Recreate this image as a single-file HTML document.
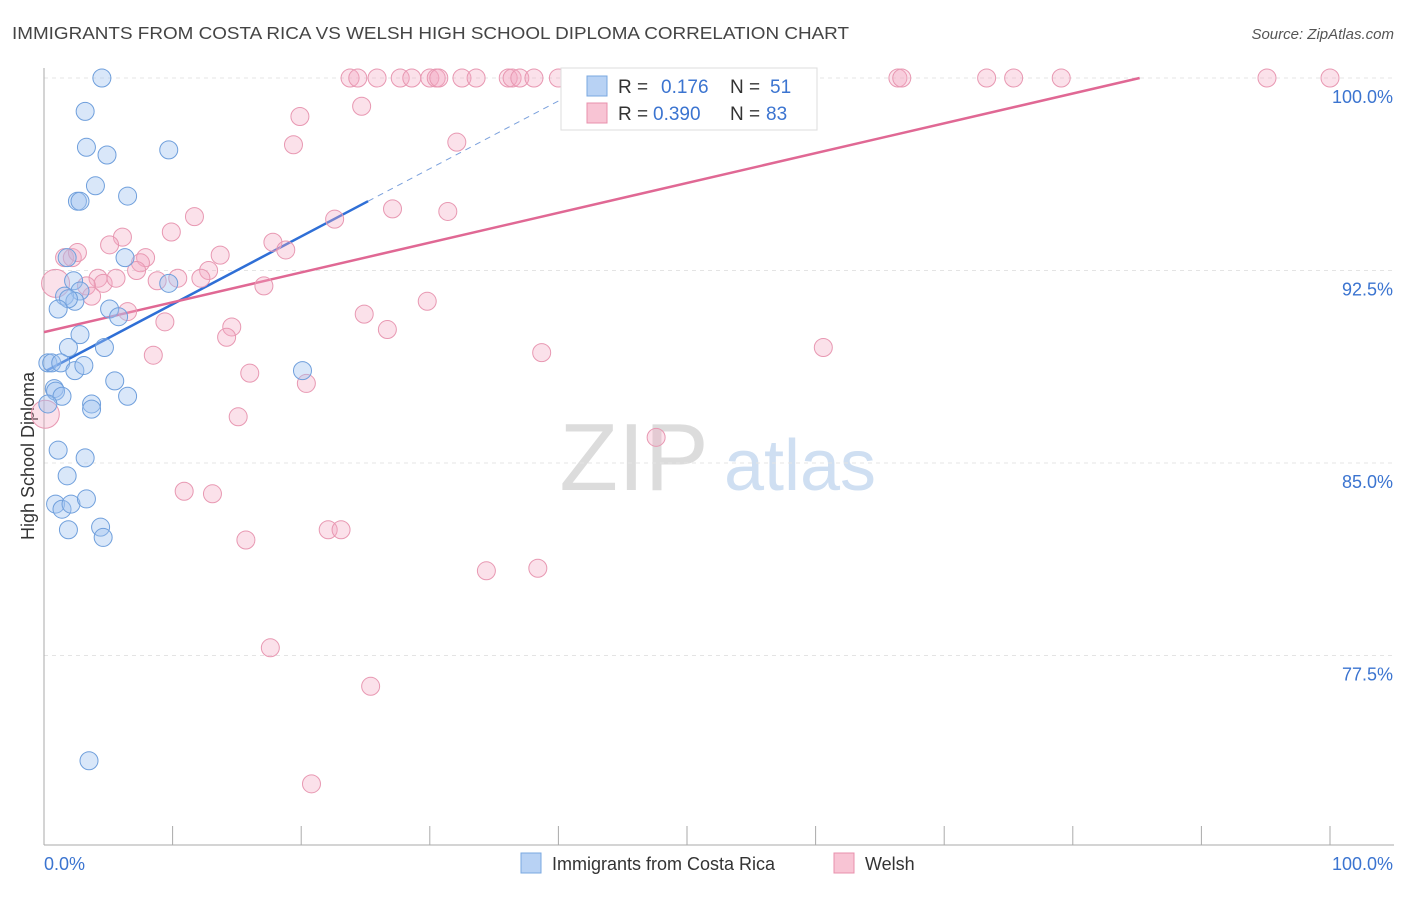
<!DOCTYPE html>
<html><head><meta charset="utf-8"><style>
body{margin:0;background:#fff;font-family:"Liberation Sans",sans-serif}
svg text{font-family:"Liberation Sans",sans-serif}
</style></head><body>
<svg id="chart" width="1406" height="892" xmlns="http://www.w3.org/2000/svg">
<text x="12" y="39" font-size="17.5" fill="#444" textLength="837" lengthAdjust="spacingAndGlyphs">IMMIGRANTS FROM COSTA RICA VS WELSH HIGH SCHOOL DIPLOMA CORRELATION CHART</text>
<text x="1394" y="39" font-size="15" fill="#555" text-anchor="end" font-style="italic">Source: ZipAtlas.com</text>
<text transform="translate(34,456) rotate(-90)" font-size="18" fill="#333" text-anchor="middle">High School Diploma</text>
<g><text x="634" y="490" font-size="96" fill="#dcdcdc" text-anchor="middle" font-family="Liberation Serif">ZIP</text><text x="800" y="490" font-size="72" fill="#cfdff2" text-anchor="middle">atlas</text></g>
<g id="grid"></g><g id="axes"></g><g id="trend"></g><g id="pts"></g>
<g>
<rect x="561" y="68" width="256" height="62" fill="#fff" stroke="#ddd"/>
<rect x="587" y="76" width="20" height="20" fill="#b8d2f4" stroke="#7aa8e0"/>
<rect x="587" y="103" width="20" height="20" fill="#f8c4d4" stroke="#e890ac"/>
<text x="618" y="93" font-size="19" fill="#333">R = </text><text x="661" y="93" font-size="19" fill="#3b74d0">0.176</text>
<text x="730" y="93" font-size="19" fill="#333">N = </text><text x="770" y="93" font-size="19" fill="#3b74d0">51</text>
<text x="618" y="120" font-size="19" fill="#333">R = </text><text x="653" y="120" font-size="19" fill="#3b74d0">0.390</text>
<text x="730" y="120" font-size="19" fill="#333">N = </text><text x="766" y="120" font-size="19" fill="#3b74d0">83</text>
</g>
<g>
<rect x="521" y="853" width="20" height="20" fill="#b8d2f4" stroke="#7aa8e0"/>
<text x="552" y="870" font-size="18" fill="#333">Immigrants from Costa Rica</text>
<rect x="834" y="853" width="20" height="20" fill="#f8c4d4" stroke="#e890ac"/>
<text x="865" y="870" font-size="18" fill="#333">Welsh</text>
</g>
</svg>
<script>
const yTicks=[100,92.5,85,77.5];
const yTickLabels=["100.0%","92.5%","85.0%","77.5%"];
const blueX=[4.5,3.2,3.3,4.9,9.7,4.0,6.5,2.6,2.8,6.3,1.8,2.3,9.7,2.8,1.6,2.4,1.9,1.1,5.1,5.8,2.8,1.9,4.7,0.3,0.6,1.3,2.4,3.1,20.1,5.5,0.8,0.9,1.4,6.5,3.7,3.7,0.3,1.1,3.2,1.8,0.9,1.4,2.1,3.3,4.4,1.9,4.6,3.5];
const blueY=[100,98.7,97.3,97.0,97.2,95.8,95.4,95.2,95.2,93.0,93.0,92.1,92.0,91.7,91.5,91.3,91.4,91.0,91.0,90.7,90.0,89.5,89.5,88.9,88.9,88.9,88.6,88.8,88.6,88.2,87.9,87.8,87.6,87.6,87.3,87.1,87.3,85.5,85.2,84.5,83.4,83.2,83.4,83.6,82.5,82.4,82.1,73.4];
const pinkX=[23.8,24.4,25.9,27.7,28.6,30.0,30.5,30.7,32.5,33.6,36.1,36.4,37.0,38.1,40.0,41.2,41.5,45.7,66.4,66.7,73.3,75.4,79.1,95.1,100,
24.7,19.9,19.4,32.1,27.1,31.4,11.7,22.6,6.1,5.1,9.9,17.8,18.8,13.7,7.9,1.6,2.2,2.6,0.9,7.5,7.2,8.8,10.4,4.2,4.6,5.6,12.8,12.2,17.1,3.3,3.7,29.8,24.9,6.5,9.4,14.6,14.2,26.7,8.5,38.7,60.6,16.0,20.4,15.1,0.1,47.6,10.9,13.1,15.7,22.1,23.1,34.4,38.4,17.6,25.4,20.8];
const pinkY=[100,100,100,100,100,100,100,100,100,100,100,100,100,100,100,100,100,100,100,100,100,100,100,100,100,
98.9,98.5,97.4,97.5,94.9,94.8,94.6,94.5,93.8,93.5,94.0,93.6,93.3,93.1,93.0,93.0,93.0,93.2,92.0,92.8,92.5,92.1,92.2,92.2,92.0,92.2,92.5,92.2,91.9,91.9,91.5,91.3,90.8,90.9,90.5,90.3,89.9,90.2,89.2,89.3,89.5,88.5,88.1,86.8,86.9,86.0,83.9,83.8,82.0,82.4,82.4,80.8,80.9,77.8,76.3,72.5];
const pinkBig=[43,69];
const blueTrend=[[0.2,88.6],[25.2,95.2],[41.5,99.5]];
const pinkTrend=[[0,90.1],[85.2,100]];
const NS='http://www.w3.org/2000/svg';
const sx=v=>44+v*12.86, sy=v=>78+(100-v)/7.5*192.5;
function mk(t,a,p){const e=document.createElementNS(NS,t);for(const k in a)e.setAttribute(k,a[k]);p.appendChild(e);return e;}
const grid=document.getElementById('grid'),axes=document.getElementById('axes');
yTicks.forEach((t,i)=>{
 const l=mk('line',{x1:44,x2:1394,y1:sy(t),y2:sy(t),stroke:'#e4e4e4','stroke-dasharray':'4,4'},grid);
 
 
 const tx=mk('text',{x:1393,y:sy(t)+25,'font-size':18,fill:'#3b74d0','text-anchor':'end'},axes);tx.textContent=yTickLabels[i];
 
 
});
mk('line',{x1:44,x2:44,y1:68,y2:845,stroke:'#aaa'},axes);
mk('line',{x1:44,x2:1394,y1:845,y2:845,stroke:'#aaa'},axes);
for(let i=0;i<=10;i++){const t=mk('line',{x1:sx(i*10),x2:sx(i*10),y1:826,y2:845,stroke:'#aaa'},axes);
 
 }
let a=mk('text',{x:44,y:870,'font-size':18,fill:'#3b74d0'},axes);a.textContent='0.0%';

a=mk('text',{x:1393,y:870,'font-size':18,fill:'#3b74d0','text-anchor':'end'},axes);a.textContent='100.0%';

const pts=document.getElementById('pts');
pinkX.forEach((x,i)=>{const big=pinkBig.includes(i);
 const c=mk('circle',{cx:sx(x),cy:sy(pinkY[i]),r:big?14:9,fill:'rgba(244,170,195,0.35)',stroke:'#e898b2','stroke-width':1},pts);
 
 });
blueX.forEach((x,i)=>{
 const c=mk('circle',{cx:sx(x),cy:sy(blueY[i]),r:9,fill:'rgba(160,195,240,0.4)',stroke:'#6f9fdc','stroke-width':1},pts);
 
 });
const tr=document.getElementById('trend');
let l=mk('line',{x1:sx(blueTrend[0][0]),y1:sy(blueTrend[0][1]),x2:sx(blueTrend[1][0]),y2:sy(blueTrend[1][1]),stroke:'#2f6fd6','stroke-width':2.5},tr);

l=mk('line',{x1:sx(blueTrend[1][0]),y1:sy(blueTrend[1][1]),x2:sx(blueTrend[2][0]),y2:sy(blueTrend[2][1]),stroke:'#7aa0dc','stroke-width':1,'stroke-dasharray':'6,5'},tr);

l=mk('line',{x1:sx(pinkTrend[0][0]),y1:sy(pinkTrend[0][1]),x2:sx(pinkTrend[1][0]),y2:sy(pinkTrend[1][1]),stroke:'#e06894','stroke-width':2.5},tr);

</script>
</body></html>
